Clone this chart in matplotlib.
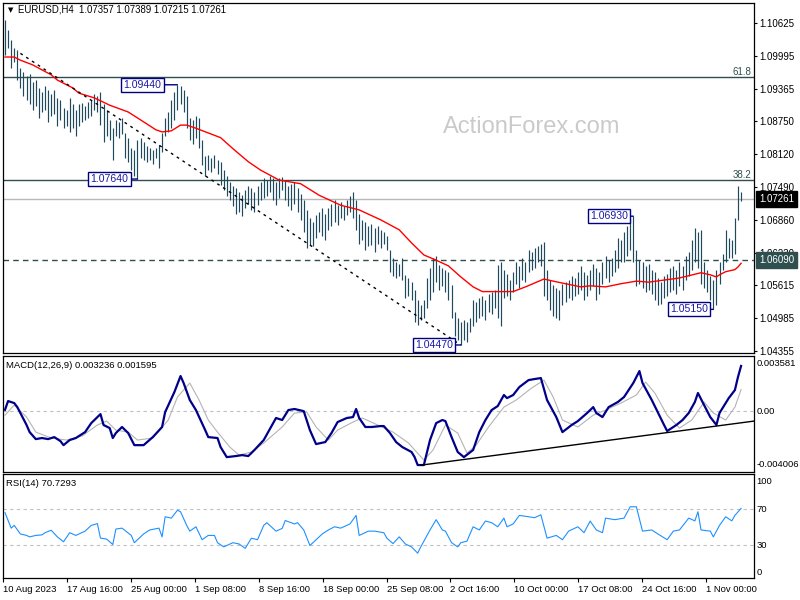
import numpy as np
import matplotlib
matplotlib.use("Agg")
import matplotlib.pyplot as plt

plt.rcParams['font.family'] = ['Liberation Sans', 'DejaVu Sans']

# EURUSD H4 bars (high / low)
high = [1.1068, 1.1049, 1.1030, 1.1014, 1.1010, 1.0976, 1.0968, 1.0961, 1.0965, 1.0949,
        1.0953, 1.0938, 1.0930, 1.0942, 1.0934, 1.0926, 1.0934, 1.0919, 1.0915, 1.0900,
        1.0896, 1.0919, 1.0907, 1.0896, 1.0907, 1.0909, 1.0903, 1.0911, 1.0915, 1.0926,
        1.0923, 1.0930, 1.0907, 1.0896, 1.0877, 1.0861, 1.0877, 1.0873, 1.0880, 1.0852,
        1.0842, 1.0823, 1.0819, 1.0839, 1.0842, 1.0835, 1.0827, 1.0823, 1.0819, 1.0823,
        1.0829, 1.0852, 1.0880, 1.0892, 1.0915, 1.0930, 1.0944, 1.0942, 1.0934, 1.0923,
        1.0880, 1.0877, 1.0884, 1.0880, 1.0839, 1.0808, 1.0810, 1.0804, 1.0810, 1.0800,
        1.0797, 1.0781, 1.0770, 1.0758, 1.0751, 1.0747, 1.0739, 1.0733, 1.0743, 1.0751,
        1.0747, 1.0739, 1.0751, 1.0758, 1.0766, 1.0762, 1.0770, 1.0766, 1.0758, 1.0766,
        1.0768, 1.0762, 1.0751, 1.0755, 1.0758, 1.0747, 1.0735, 1.0724, 1.0705, 1.0690,
        1.0682, 1.0695, 1.0701, 1.0709, 1.0697, 1.0709, 1.0716, 1.0724, 1.0714, 1.0720,
        1.0712, 1.0724, 1.0732, 1.0739, 1.0724, 1.0697, 1.0686, 1.0682, 1.0674, 1.0678,
        1.0671, 1.0674, 1.0667, 1.0663, 1.0655, 1.0629, 1.0613, 1.0606, 1.0602, 1.0613,
        1.0581, 1.0575, 1.0567, 1.0552, 1.0533, 1.0523, 1.0533, 1.0575, 1.0594, 1.0613,
        1.0617, 1.0600, 1.0594, 1.0591, 1.0587, 1.0562, 1.0510, 1.0499, 1.0491, 1.0495,
        1.0491, 1.0499, 1.0533, 1.0529, 1.0537, 1.0541, 1.0533, 1.0545, 1.0549, 1.0552,
        1.0600, 1.0606, 1.0591, 1.0583, 1.0571, 1.0587, 1.0606, 1.0598, 1.0613, 1.0606,
        1.0629, 1.0625, 1.0632, 1.0636, 1.0640, 1.0644, 1.0591, 1.0571, 1.0562, 1.0556,
        1.0552, 1.0564, 1.0567, 1.0571, 1.0579, 1.0575, 1.0587, 1.0598, 1.0587, 1.0581,
        1.0591, 1.0602, 1.0594, 1.0587, 1.0606, 1.0617, 1.0609, 1.0613, 1.0629, 1.0652,
        1.0648, 1.0663, 1.0674, 1.0690, 1.0693, 1.0629, 1.0609, 1.0606, 1.0598, 1.0602,
        1.0591, 1.0587, 1.0575, 1.0567, 1.0579, 1.0583, 1.0594, 1.0598, 1.0591, 1.0606,
        1.0598, 1.0617, 1.0625, 1.0648, 1.0671, 1.0663, 1.0667, 1.0606, 1.0591, 1.0579,
        1.0571, 1.0591, 1.0606, 1.0621, 1.0667, 1.0652, 1.0648, 1.0690, 1.0751, 1.0739]
low = [1.1001, 1.1014, 1.0976, 1.0988, 1.0953, 1.0938, 1.0923, 1.0915, 1.0907, 1.0896,
       1.0903, 1.0880, 1.0892, 1.0896, 1.0873, 1.0884, 1.0888, 1.0865, 1.0877, 1.0861,
       1.0865, 1.0854, 1.0861, 1.0846, 1.0865, 1.0873, 1.0877, 1.0880, 1.0884, 1.0896,
       1.0892, 1.0867, 1.0835, 1.0846, 1.0839, 1.0800, 1.0846, 1.0842, 1.0850, 1.0804,
       1.0797, 1.0781, 1.0770, 1.0764, 1.0804, 1.0800, 1.0797, 1.0800, 1.0793, 1.0804,
       1.0785, 1.0816, 1.0846, 1.0854, 1.0861, 1.0877, 1.0896, 1.0907, 1.0892, 1.0861,
       1.0839, 1.0831, 1.0842, 1.0823, 1.0791, 1.0770, 1.0781, 1.0777, 1.0785, 1.0774,
       1.0753, 1.0743, 1.0732, 1.0724, 1.0712, 1.0697, 1.0701, 1.0693, 1.0709, 1.0716,
       1.0705, 1.0701, 1.0714, 1.0724, 1.0728, 1.0732, 1.0739, 1.0724, 1.0714, 1.0728,
       1.0743, 1.0724, 1.0712, 1.0705, 1.0716, 1.0701, 1.0686, 1.0663, 1.0632, 1.0638,
       1.0636, 1.0652, 1.0663, 1.0655, 1.0648, 1.0667, 1.0674, 1.0682, 1.0676, 1.0690,
       1.0686, 1.0695, 1.0701, 1.0690, 1.0667, 1.0640, 1.0648, 1.0629, 1.0636, 1.0638,
       1.0625, 1.0640, 1.0632, 1.0640, 1.0629, 1.0587, 1.0579, 1.0575, 1.0579, 1.0571,
       1.0537, 1.0541, 1.0533, 1.0491, 1.0485, 1.0495, 1.0499, 1.0518, 1.0533, 1.0549,
       1.0567, 1.0552, 1.0560, 1.0549, 1.0533, 1.0499, 1.0464, 1.0457, 1.0447, 1.0457,
       1.0453, 1.0472, 1.0484, 1.0491, 1.0499, 1.0502, 1.0495, 1.0510, 1.0506, 1.0518,
       1.0499, 1.0484, 1.0537, 1.0541, 1.0533, 1.0549, 1.0564, 1.0556, 1.0571, 1.0567,
       1.0587, 1.0591, 1.0594, 1.0606, 1.0598, 1.0541, 1.0533, 1.0514, 1.0502, 1.0499,
       1.0495, 1.0523, 1.0529, 1.0537, 1.0533, 1.0541, 1.0545, 1.0552, 1.0533, 1.0541,
       1.0552, 1.0560, 1.0533, 1.0545, 1.0564, 1.0575, 1.0567, 1.0579, 1.0587, 1.0594,
       1.0606, 1.0606, 1.0617, 1.0629, 1.0606, 1.0560, 1.0564, 1.0556, 1.0549, 1.0552,
       1.0545, 1.0533, 1.0523, 1.0525, 1.0537, 1.0541, 1.0549, 1.0552, 1.0545, 1.0560,
       1.0552, 1.0571, 1.0579, 1.0591, 1.0606, 1.0594, 1.0564, 1.0556, 1.0549, 1.0533,
       1.0515, 1.0523, 1.0564, 1.0591, 1.0606, 1.0613, 1.0613, 1.0621, 1.0686, 1.0722]

# red moving average (bar index, price)
ma_idx = [0, 3, 5, 9, 15, 17, 22, 24, 29, 34, 40, 44, 49, 51, 54, 57, 59, 62, 66, 70,
          74, 79, 83, 89, 96, 102, 109, 115, 122, 128, 132, 136, 140, 144, 148, 152, 155, 161, 165, 169,
          175, 178, 182, 187, 190, 195, 200, 205, 209, 214, 219, 226, 229, 231, 232, 234, 237, 238, 239]
ma_val = [1.0997, 1.0997, 1.0991, 1.0982, 1.0963, 1.0953, 1.0938, 1.0928, 1.0919, 1.0905,
          1.0892, 1.0877, 1.0858, 1.0854, 1.0856, 1.0867, 1.0867, 1.0861, 1.0852, 1.0843,
          1.0822, 1.0797, 1.0781, 1.0762, 1.0755, 1.0733, 1.0714, 1.0705, 1.0686, 1.0667,
          1.0642, 1.0619, 1.0609, 1.0598, 1.0577, 1.0558, 1.0549, 1.0549, 1.0549, 1.0558,
          1.0573, 1.0569, 1.0564, 1.0558, 1.0560, 1.0558, 1.0564, 1.0569, 1.0567, 1.0571,
          1.0575, 1.0585, 1.0581, 1.0577, 1.0581, 1.0587, 1.0591, 1.0596, 1.0603]

# MACD(12,26,9) main line and signal
macd_idx = [0, 1, 3, 4, 7, 8, 10, 12, 14, 16, 18, 19, 21, 23, 26, 28, 31, 32, 34, 35,
            36, 38, 40, 42, 45, 48, 51, 52, 55, 57, 58, 60, 62, 65, 66, 69, 70, 72, 75, 77,
            79, 81, 84, 88, 90, 92, 94, 97, 99, 101, 104, 106, 108, 111, 113, 114, 115, 117, 119, 122,
            123, 125, 127, 129, 132, 133, 134, 136, 138, 140, 142, 143, 145, 147, 149, 152, 154, 156, 158, 160,
            162, 163, 165, 167, 170, 172, 174, 176, 179, 181, 184, 186, 189, 191, 192, 194, 196, 199, 201, 204,
            206, 207, 210, 214, 215, 218, 220, 222, 224, 225, 227, 229, 231, 232, 235, 237, 238, 239]
macd_val = [0.0001, 0.00075, 0.0006, 0.0003, -0.00103, -0.00156, -0.00208, -0.0020, -0.00208, -0.00193,
            -0.00223, -0.00253, -0.00215, -0.0020, -0.00156, -0.00089, -0.00022, -0.00103, -0.00126, -0.0020,
            -0.00163, -0.00118, -0.00163, -0.00253, -0.00253, -0.00193, -0.00118, -0.00007, 0.00142, 0.00261,
            0.00209, 0.00083, 0.00008, -0.00141, -0.00193, -0.0020, -0.00267, -0.00342, -0.00334, -0.00327,
            -0.00334, -0.00289, -0.00215, -0.00051, -0.00066, 0.00008, 0.00016, 0.0, -0.00141, -0.00245,
            -0.0023, -0.00163, -0.00081, -0.00051, -0.00044, 0.00016, -0.00051, -0.00118, -0.00118, -0.00111,
            -0.00111, -0.00163, -0.0023, -0.00267, -0.00304, -0.00342, -0.00401, -0.00401, -0.00215, -0.00089,
            -0.00066, -0.00074, -0.00193, -0.00304, -0.00342, -0.00289, -0.00156, -0.00066, 0.00008, 0.00038,
            0.0012, 0.00097, 0.0012, 0.00179, 0.00231, 0.00239, 0.00246, 0.00083, -0.00044, -0.00156,
            -0.00103, -0.00074, -0.00014, 0.0003, -0.00014, -0.00044, 0.0003, 0.00068, 0.00105, 0.00209,
            0.00298, 0.00209, 0.00083, -0.00103, -0.00148, -0.00103, -0.00066, -0.00014, 0.00068, 0.00135,
            0.00045, -0.00044, -0.00103, -0.00014, 0.00097, 0.00157, 0.00254, 0.00336]
signal_idx = [0, 3, 7, 10, 15, 20, 25, 30, 33, 36, 40, 43, 48, 53, 56, 60, 63, 66, 69, 73,
              76, 80, 84, 90, 94, 98, 101, 105, 108, 113, 116, 121, 126, 131, 136, 139, 143, 147, 150, 153,
              157, 162, 166, 171, 175, 178, 181, 186, 191, 195, 200, 205, 208, 211, 215, 219, 223, 227, 230, 234,
              237, 239]
signal_val = [-0.0003, 0.00045, -0.00044, -0.00156, -0.0020, -0.00215, -0.00185, -0.00103, -0.00074, -0.00141,
              -0.00156, -0.00215, -0.0020, -0.00066, 0.00105, 0.00209, 0.00083, -0.00066, -0.00156, -0.00267,
              -0.00327, -0.00304, -0.00237, -0.00118, -0.00014, -0.00007, -0.00118, -0.00215, -0.00141, -0.00081,
              -0.00051, -0.00103, -0.00156, -0.00237, -0.00364, -0.00289, -0.00103, -0.00163, -0.00312, -0.00253,
              -0.00118, 0.0003, 0.00083, 0.00172, 0.00231, 0.00105, -0.00066, -0.00118, -0.0003, 0.00008,
              0.0006, 0.0012, 0.00216, 0.00135, -0.0003, -0.00126, -0.00066, 0.00068, -0.00014, -0.00066,
              0.0003, 0.0016]

# RSI(14)
rsi_idx = [0, 2, 3, 5, 7, 8, 10, 12, 13, 15, 17, 19, 21, 23, 26, 28, 30, 31, 33, 35,
           36, 38, 41, 42, 45, 47, 50, 51, 52, 54, 56, 57, 59, 60, 62, 64, 66, 68, 69, 71,
           74, 76, 78, 80, 82, 84, 85, 88, 90, 91, 94, 95, 97, 99, 100, 103, 105, 107, 109, 112,
           114, 115, 118, 120, 123, 124, 126, 128, 130, 132, 134, 135, 138, 140, 142, 143, 145, 147, 148, 150,
           152, 154, 156, 158, 160, 162, 163, 165, 167, 170, 172, 174, 176, 179, 181, 183, 186, 188, 190, 192,
           194, 195, 198, 201, 203, 205, 207, 210, 212, 215, 217, 219, 222, 224, 225, 226, 229, 230, 232, 234,
           236, 237, 239]
rsi_val = [66, 49, 52, 42.6, 41, 39.4, 41, 41.6, 44, 46.7, 39.4, 34, 44, 41, 45.7, 52, 54, 38, 37, 31,
           48, 49, 41, 33, 42.6, 47, 49, 39.4, 61.5, 60, 68.7, 67, 52, 45.7, 50.5, 36.3, 41, 41, 33, 28.4,
           33, 31.6, 26.8, 37.9, 36.3, 52, 55, 45.7, 48.7, 57.4, 53.6, 55, 47, 30, 33, 42.6, 47, 50.5, 49, 53.6,
           63, 41, 45.7, 45.7, 44, 37.9, 32, 39.4, 31.6, 28.4, 21.5, 28.4, 47, 58.3, 47, 45.7, 33, 28.4, 33, 34.7,
           50.5, 47, 56.8, 55, 50.5, 60, 50.5, 53.6, 63, 61.5, 60.5, 63.7, 38, 41, 36.3, 45.7, 50.5, 44, 56.8, 47,
           44, 60, 58.3, 60, 72.5, 72.5, 45.7, 47, 42.6, 36.3, 45.7, 47, 60, 57, 67, 47, 45.7, 39.4, 52, 61.5,
           57, 63, 70.7]

# swing labels
swing_idx = [56, 43, 148, 204, 230]
swing_price = [1.0944, 1.0764, 1.0447, 1.0693, 1.0515]
swing_text = ['1.09440', '1.07640', '1.04470', '1.06930', '1.05150']
swing_gap = [16, 9, 8, 5, 5]  # pixels between bar and label

# levels
fib_levels = [1.0959, 1.0763]
fib_names = ['61.8', '38.2']
last_price = 1.07261
support = 1.06090
trend_idx = [5, 148]
trend_price = [1.1004, 1.0447]
macd_trend_idx = [135, 243.2]
macd_trend_val = [-0.00402, -0.00074]

price_ticks = [1.10625, 1.09995, 1.09365, 1.08750, 1.08120, 1.07490,
               1.06860, 1.06230, 1.05615, 1.04985, 1.04355]
date_labels = ['10 Aug 2023', '17 Aug 16:00', '25 Aug 00:00', '1 Sep 08:00', '8 Sep 16:00',
               '18 Sep 00:00', '25 Sep 08:00', '2 Oct 16:00', '10 Oct 00:00', '17 Oct 08:00',
               '24 Oct 16:00', '1 Nov 00:00']

BAR = '#1f4a5c'
SLATE = '#2f4f4f'
FS = 7.0

W, H = 800, 600
fig = plt.figure(figsize=(8, 6), dpi=100)


def px_box(left, top, right, bottom):
    return [left / W, 1 - bottom / H, (right - left) / W, (bottom - top) / H]


ax = fig.add_axes(px_box(3, 3, 754, 353))
ax_macd = fig.add_axes(px_box(3, 356, 754, 472))
ax_rsi = fig.add_axes(px_box(3, 474, 754, 578))

xlim = (-0.65, 243.2)
for a in (ax, ax_macd, ax_rsi):
    a.set_xlim(*xlim)
    for s in a.spines.values():
        s.set_color('black')
        s.set_linewidth(0.9)
    a.set_xticks([])
    a.set_yticks([])

# ---- main price panel
bars = np.arange(len(high))
ax.vlines(bars, low, high, color=BAR, lw=0.85, zorder=3)
ax.plot(ma_idx, ma_val, color='red', lw=1.0, zorder=4)
for lvl, name in zip(fib_levels, fib_names):
    ax.axhline(lvl, color=SLATE, lw=1.0, zorder=2)
    ax.text(0.997, lvl, name, transform=ax.get_yaxis_transform(), ha='right', va='bottom',
            fontsize=FS, color=SLATE)
ax.axhline(last_price, color='#b8b8b8', lw=1.0, zorder=2)
ax.axhline(support, color=SLATE, lw=1.0, ls=(0, (4, 3)), zorder=2)
ax.plot(trend_idx, trend_price, color='black', lw=1.0, ls=(0, (2, 3)), zorder=4)

ax.text(0.704, 0.646, 'ActionForex.com', transform=ax.transAxes, ha='center', va='center',
        fontsize=17, color='#cacaca', zorder=1)

for idx, price, txt, gap in zip(swing_idx, swing_price, swing_text, swing_gap):
    ax.annotate(txt, xy=(idx, price), xytext=(-gap, 0), textcoords='offset pixels',
                ha='right', va='center', fontsize=7.6, color='#1a1aa6', zorder=6,
                bbox=dict(boxstyle='square,pad=0.2', fc='white', ec='#000080', lw=1.0),
                arrowprops=dict(arrowstyle='-', color='#000080', lw=1.0, shrinkA=0, shrinkB=0))

ax.set_ylim(1.04317, 1.11002)
ax.yaxis.tick_right()
ax.set_yticks(price_ticks)
ax.set_yticklabels([f'{v:.5f}' for v in price_ticks])
ax.tick_params(axis='y', length=2.5, width=0.8, pad=1.5, labelsize=FS)

ax.text(1.007, last_price, f'{last_price:.5f}', transform=ax.get_yaxis_transform(),
        ha='left', va='center', fontsize=FS, color='white', zorder=10, clip_on=False,
        bbox=dict(boxstyle='square,pad=0.3', fc='black', ec='black'))
ax.text(1.007, support, f'{support:.5f}', transform=ax.get_yaxis_transform(),
        ha='left', va='center', fontsize=FS, color='white', zorder=10, clip_on=False,
        bbox=dict(boxstyle='square,pad=0.3', fc=SLATE, ec=SLATE))

fig.text(8 / W, 1 - 10 / H, '\u25bc', fontsize=5, va='center', family=['DejaVu Sans'])
fig.text(18 / W, 1 - 10 / H, 'EURUSD,H4  1.07357 1.07389 1.07215 1.07261',
         fontsize=6.9, va='center')

# ---- MACD panel
ax_macd.set_ylim(-0.004527, 0.004102)
ax_macd.axhline(0, color='#c0c0c0', lw=0.8, ls=(0, (3, 3)))
ax_macd.plot(signal_idx, signal_val, color='#b4b4b4', lw=0.8)
ax_macd.plot(macd_idx, macd_val, color='#00008b', lw=1.6)
ax_macd.plot(macd_trend_idx, macd_trend_val, color='black', lw=1.0)
ax_macd.text(0.004, 0.922, 'MACD(12,26,9) 0.003236 0.001595', transform=ax_macd.transAxes,
             fontsize=6.8, va='center')
for v, s in [(0.003581, '0.003581'), (0.0, '0.00'), (-0.004006, '-0.004006')]:
    ax_macd.text(1.003, v, s, transform=ax_macd.get_yaxis_transform(), ha='left',
                 va='center', fontsize=6.8, clip_on=False)

# ---- RSI panel
ax_rsi.set_ylim(-5.8, 108.5)
for lvl in (70, 30):
    ax_rsi.axhline(lvl, color='#c0c0c0', lw=0.8, ls=(0, (3, 3)))
ax_rsi.plot(rsi_idx, rsi_val, color='#1e90ff', lw=0.8)
ax_rsi.text(0.004, 0.913, 'RSI(14) 70.7293', transform=ax_rsi.transAxes,
            fontsize=6.8, va='center')
for v in (100, 70, 30, 0):
    ax_rsi.text(1.003, v, str(v), transform=ax_rsi.get_yaxis_transform(), ha='left',
                va='center', fontsize=6.8, clip_on=False)

tick_pos = [-0.6 + 20.75 * k for k in range(len(date_labels))]
ax_rsi.set_xticks(tick_pos)
ax_rsi.set_xticklabels(date_labels, ha='left', fontsize=6.8)
ax_rsi.tick_params(axis='x', length=3, width=0.8, pad=2)
ax_rsi.set_xlim(*xlim)

fig.savefig('out.png', dpi=100, facecolor='white')
